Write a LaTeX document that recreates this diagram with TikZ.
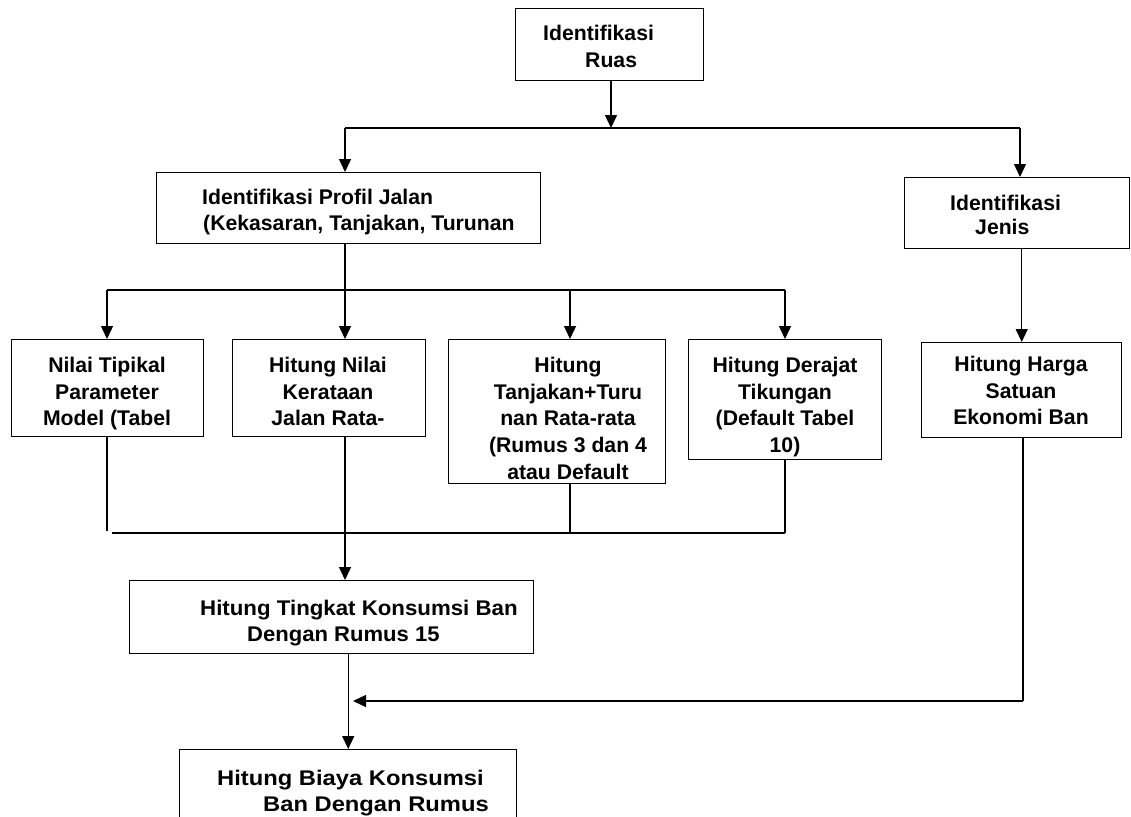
\documentclass[tikz,border=0pt]{standalone}
\usepackage{fontspec}
\usepackage{graphicx}
\setmainfont{Liberation Sans}
\usetikzlibrary{arrows.meta}
\newcommand{\widen}[2]{\scalebox{#1}[1]{#2}}
\begin{document}
\begin{tikzpicture}[x=1pt,y=-1pt,
  box/.style={draw, line width=1.4pt, inner sep=0pt, anchor=north west},
  txt/.style={font=\bfseries\fontsize{21.2}{26.7}\selectfont, inner sep=0pt},
  ctr/.style={txt, align=center, anchor=north},
  lft/.style={txt, anchor=base west},
  link/.style={line width=1.4pt},
  arr/.style={link, -{Triangle[width=12pt,length=13pt]}}]
\clip (0,0) rectangle (1131,816);

% boxes (top-left corner, size)
\node[box, minimum width=188pt, minimum height=72pt]  (ruas)     at (515,8)   {};
\node[box, minimum width=384pt, minimum height=71pt]  (profil)   at (156,172) {};
\node[box, minimum width=225pt, minimum height=71pt]  (jenis)    at (904,177) {};
\node[box, minimum width=192pt, minimum height=97pt]  (tipikal)  at (11,339)  {};
\node[box, minimum width=193pt, minimum height=97pt]  (kerataan) at (232,339) {};
\node[box, minimum width=217pt, minimum height=144pt] (tanjakan) at (448,339) {};
\node[box, minimum width=193pt, minimum height=120pt] (derajat)  at (688,339) {};
\node[box, minimum width=200pt, minimum height=95pt]  (harga)    at (921,342) {};
\node[box, minimum width=404pt, minimum height=73pt]  (tingkat)  at (129,580) {};
\node[box, minimum width=337pt, minimum height=90pt]  (biaya)    at (179,749) {};

% box texts
\node[lft] (ruas-a) at (543,41) {Identifikasi};
\node[lft] (ruas-b) at (585,67) {Ruas};
\node[lft] (profil-a) at (202,204) {Identifikasi Profil Jalan};
\node[lft] (profil-b) at (203,230) {(Kekasaran, Tanjakan, Turunan};
\node[lft] (jenis-a) at (950,210) {Identifikasi};
\node[lft] (jenis-b) at (975,234) {Jenis};
\node[ctr] (tipikal-t) at (107,357) {Nilai Tipikal\\Parameter\\Model (Tabel};
\node[ctr] (kerataan-t) at (328,357) {Hitung Nilai\\Kerataan\\Jalan Rata-};
\node[ctr] (tanjakan-t) at (568,357) {Hitung\\Tanjakan+Turu\\nan Rata-rata\\(Rumus 3 dan 4\\atau Default};
\node[ctr] (derajat-t) at (785,357) {Hitung Derajat\\Tikungan\\(Default Tabel\\10)};
\node[ctr] (harga-t) at (1021,356) {Hitung Harga\\Satuan\\Ekonomi Ban};
\node[lft] (tingkat-a) at (200,615) {\widen{1.05}{Hitung Tingkat Konsumsi Ban}};
\node[lft] (tingkat-b) at (247,641) {\widen{1.04}{Dengan Rumus 15}};
\node[lft] (biaya-a) at (217,785) {\widen{1.12}{Hitung Biaya Konsumsi}};
\node[lft] (biaya-b) at (263,811) {\widen{1.12}{Ban Dengan Rumus}};

% junction points
\coordinate (b1) at (611,128);
\coordinate (b1l) at (345,128);
\coordinate (b1r) at (1020,128);
\coordinate (b2) at (345,290);
\coordinate (b2l) at (107,290);
\coordinate (b2c) at (570,290);
\coordinate (b2r) at (785,290);
\coordinate (m0) at (107,531);
\coordinate (ml) at (112,533);
\coordinate (mk) at (345,533);
\coordinate (mt) at (570,533);
\coordinate (mr) at (785,533);
\coordinate (hc) at (1023,701);
\coordinate (hj) at (353,701);

% connectors
\draw[arr] (ruas.south -| b1) -- (b1);
\draw[link] (b1l) -- (b1r);
\draw[arr] (b1l) -- (profil.north -| b1l);
\draw[arr] (b1r) -- (jenis.north -| b1r);
\draw[link] (profil.south -| b2) -- (b2);
\draw[link] (b2l) -- (b2r);
\draw[arr] (b2l) -- (tipikal.north -| b2l);
\draw[arr] (b2) -- (kerataan.north -| b2);
\draw[arr] (b2c) -- (tanjakan.north -| b2c);
\draw[arr] (b2r) -- (derajat.north -| b2r);
\draw[arr] (jenis.south -| harga.north) -- (harga.north);
\draw[link] (tipikal.south -| m0) -- (m0);
\draw[link] (ml) -- (mr);
\draw[link] (tanjakan.south -| mt) -- (mt);
\draw[link] (derajat.south -| mr) -- (mr);
\draw[arr] (kerataan.south -| mk) -- (tingkat.north -| mk);
\draw[arr] (tingkat.south -| biaya.north) -- (biaya.north);
\draw[link] (harga.south -| hc) -- (hc);
\draw[arr] (hc) -- (hj);
\end{tikzpicture}
\end{document}
